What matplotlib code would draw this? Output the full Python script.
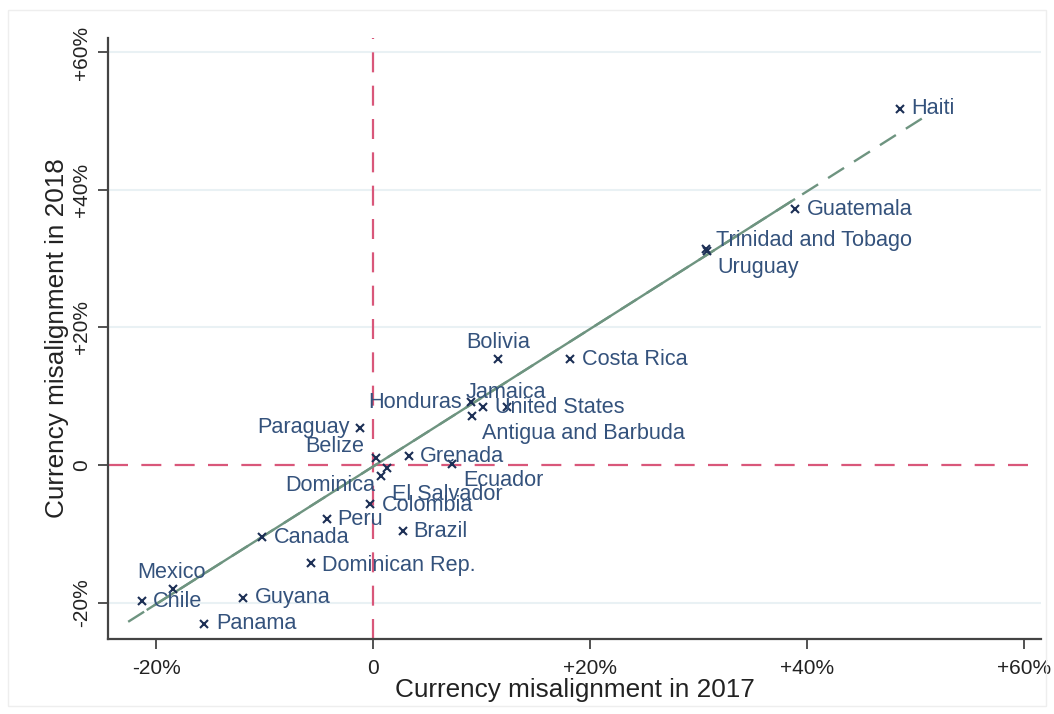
import matplotlib
matplotlib.use("Agg")
import matplotlib.pyplot as plt
from matplotlib.patches import Rectangle
import numpy as np

# Currency misalignment (%) by country, 2017 vs 2018
countries = ["Haiti", "Guatemala", "Trinidad and Tobago", "Uruguay", "Bolivia",
             "Costa Rica", "Jamaica", "United States", "Honduras",
             "Antigua and Barbuda", "Paraguay", "Belize", "Grenada", "Ecuador",
             "El Salvador", "Dominica", "Colombia", "Peru", "Brazil", "Canada",
             "Dominican Rep.", "Mexico", "Chile", "Guyana", "Panama"]
mis_2017 = [48.6, 38.9, 30.7, 30.8, 11.5, 18.1, 12.3, 10.1, 9.0, 9.1, -1.2, 0.25,
            3.3, 7.3, 0.7, 1.3, -0.3, -4.3, 2.7, -10.3, -5.7, -18.5, -21.3, -12.0, -15.6]
mis_2018 = [51.8, 37.2, 31.4, 31.1, 15.4, 15.4, 8.4, 8.4, 9.2, 7.1, 5.4, 1.0,
            1.3, 0.15, -1.6, -0.4, -5.7, -7.9, -9.6, -10.5, -14.3, -18.0, -19.8, -19.3, -23.1]

# Linear fit: solid over the fitted span, dashed extension at both ends
fit_intercept = -0.2
fit_slope = 1.0
fit_solid = [-20.8, 38.8]
fit_full = [-22.6, 50.9]

ticks = [-20, 0, 20, 40, 60]
tick_labels = ["-20%", "0", "+20%", "+40%", "+60%"]

# Label placement: (dx px, dy px down, horizontal alignment)
placement = {
    "Haiti": (11, 0, "left"), "Guatemala": (12, 0, "left"),
    "Trinidad and Tobago": (10, -9, "left"), "Uruguay": (10, 16, "left"),
    "Bolivia": (0, -17, "center"), "Costa Rica": (12, 0, "left"),
    "Jamaica": (-1, -15, "center"), "United States": (12, 0, "left"),
    "Honduras": (-9, 1, "right"), "Antigua and Barbuda": (10, 17, "left"),
    "Paraguay": (-11, 0, "right"), "Belize": (-12, -12, "right"),
    "Grenada": (11, 0, "left"), "Ecuador": (11, 17, "left"),
    "El Salvador": (11, 18, "left"), "Dominica": (-12, 18, "right"),
    "Colombia": (12, 1, "left"), "Peru": (11, 0, "left"),
    "Brazil": (11, 0, "left"), "Canada": (12, 0, "left"),
    "Dominican Rep.": (11, 2, "left"), "Mexico": (-1, -16, "center"),
    "Chile": (11, 0, "left"), "Guyana": (12, 0, "left"),
    "Panama": (12, 0, "left"),
}

plt.rcParams["font.family"] = ["Liberation Sans", "DejaVu Sans"]

fig = plt.figure(figsize=(10.54, 7.14), dpi=100)
fig.patch.set_facecolor("white")
fig.patches.append(Rectangle((8 / 1054, 8 / 714), 1038 / 1054, 696 / 714,
                             transform=fig.transFigure, fill=False,
                             edgecolor="#eeeeee", linewidth=1.0))

ax = fig.add_axes([108 / 1054, 1 - 639 / 714, (1041 - 108) / 1054, (639 - 38) / 714])
ax.set_xlim(-24.46, 61.57)
ax.set_ylim(-25.3, 62.1)

# light horizontal grid
for t in [-20, 20, 40, 60]:
    ax.axhline(t, color="#e9f1f4", linewidth=1.5, zorder=0)

red = "#d9577a"
ax.axhline(0, color=red, linewidth=1.6, dashes=(9, 6), zorder=1)
ax.axvline(0, color=red, linewidth=1.6, dashes=(9, 6), zorder=1)

green = "#6e9480"
xf = np.array(fit_full)
ax.plot(xf, fit_intercept + fit_slope * xf, color=green, linewidth=1.7,
        dashes=(8, 5), zorder=2)
xs = np.array(fit_solid)
ax.plot(xs, fit_intercept + fit_slope * xs, color=green, linewidth=1.7, zorder=2)

ax.plot(mis_2017, mis_2018, linestyle="none", marker="x", markersize=5.5,
        markeredgewidth=1.5, color="#1c2f55", zorder=3)

for name, x, y in zip(countries, mis_2017, mis_2018):
    dx, dy, ha = placement[name]
    ax.annotate(name, (x, y), xytext=(dx * 0.72, -dy * 0.72),
                textcoords="offset points", ha=ha, va="center",
                fontsize=15.6, color="#34527c", zorder=4)

for side in ["top", "right"]:
    ax.spines[side].set_visible(False)
for side in ["left", "bottom"]:
    ax.spines[side].set_color("#444444")
    ax.spines[side].set_linewidth(1.6)

ax.set_xticks(ticks)
ax.set_xticklabels(tick_labels)
ax.set_yticks(ticks)
ax.set_yticklabels(tick_labels, rotation=90, va="center")
ax.tick_params(axis="both", length=7.5, width=1.3, color="#444444",
               labelsize=15, labelcolor="#222222")
ax.tick_params(axis="x", pad=7)
ax.tick_params(axis="y", pad=5)

ax.set_xlabel("Currency misalignment in 2017", fontsize=18.8, color="#222222", labelpad=0)
ax.set_ylabel("Currency misalignment in 2018", fontsize=18.8, color="#222222", labelpad=2)

fig.savefig("out.png", dpi=100, facecolor="white")
